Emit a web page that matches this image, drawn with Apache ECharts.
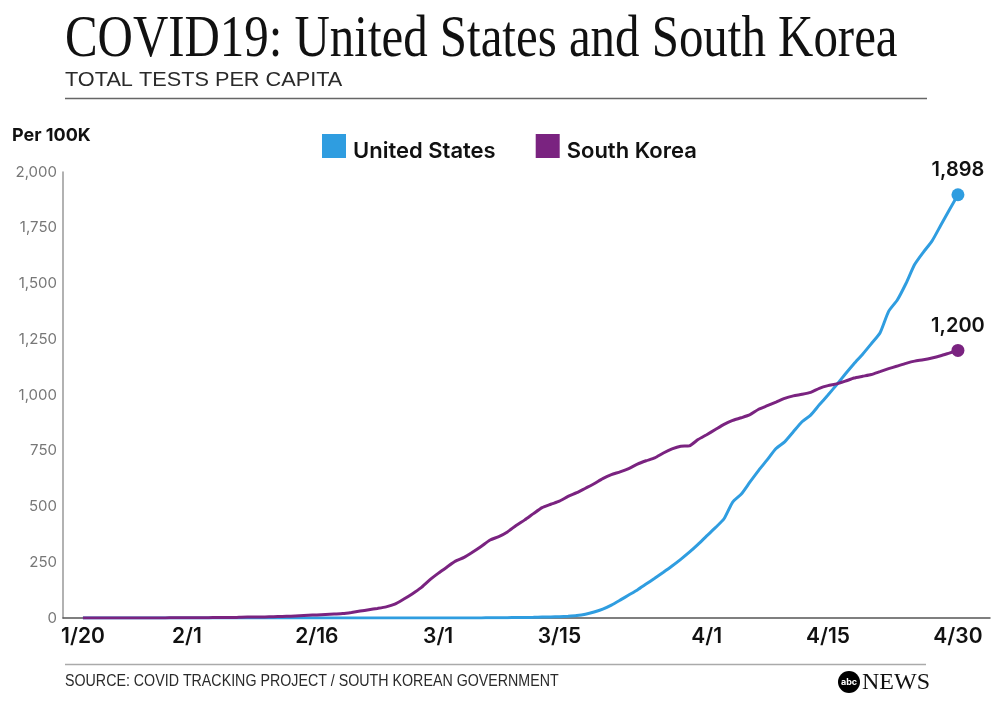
<!DOCTYPE html>
<html>
<head>
<meta charset="utf-8">
<script src="https://cdn.jsdelivr.net/npm/echarts@6/dist/echarts.min.js"></script>
<style>
html,body{margin:0;padding:0;background:#fff;}
#chart{width:992px;height:701px;}
</style>
</head>
<body>
<div id="chart"></div>
<script>
// Day index 0 = 1/20, 101 = 4/30
const tickDays = [0, 12, 27, 41, 55, 72, 86, 101];
const tickLabels = ['1/20', '2/1', '2/16', '3/1', '3/15', '4/1', '4/15', '4/30'];
const yTicks = [0, 250, 500, 750, 1000, 1250, 1500, 1750, 2000];

// Total tests per 100K, one value per day from 1/20 to 4/30
const unitedStates = [
  0,0,0,0,0,0,0,0,0,0, 0,0,0,0,0,0,0,0,0,0,
  0,0,0,0,0,0,0,0,0,0, 0,0,0,0,0,0,0,0,0,0,
  0,0,0,0,0,0.3,0.5,0.7,1,1.5, 2,2.5,3,4,5,6,8,11,17,27,
  40,58,80,103,126,152,178,205,233,263, 295,330,368,405,445,520,556,610,662,710,
  760,790,835,880,910,956,1000,1046,1094,1140, 1183,1230,1278,1375,1426,1500,1585,1640,1690,1760,
  1830,1898
];
const southKorea = [
  0,0,0,0,0,0,0,0,0,0, 1,1,1,1,1,2,2,2,3,4,
  4,5,6,7,8,10,12,14,16,18, 20,25,31,37,43,50,62,84,108,135,
  170,200,228,255,272,296,322,350,365,386, 415,440,468,495,510,524,545,562,582,602,
  625,643,655,670,690,705,718,740,758,770, 772,800,822,845,868,886,898,912,936,952,
  968,985,996,1003,1012,1030,1042,1050,1062,1076, 1084,1092,1105,1118,1130,1142,1152,1158,1166,1176,
  1188,1200
];
const seriesNames = ['United States', 'South Korea'];
const seriesColors = ['#2F9DE0', '#7A2380'];

const toPairs = arr => arr.map((v, i) => [i, v]);
const lastPair = arr => [[arr.length - 1, arr[arr.length - 1]]];
const fmt = v => v.toLocaleString('en-US');

const chart = echarts.init(document.getElementById('chart'), null, {renderer: 'canvas'});
const sans = 'Inter, "Liberation Sans", Arial, sans-serif';

function endLabel() {
  return {show: true, position: 'top', distance: 8, formatter: p => fmt(p.value[1]),
    fontSize: 20, fontWeight: 600, color: '#111', fontFamily: sans};
}

chart.setOption({
  animation: false,
  backgroundColor: '#fff',
  grid: {left: 63, right: 2, top: 172, bottom: 83, containLabel: false},
  legend: {
    data: seriesNames,
    left: 322, top: 134, padding: 0,
    icon: 'rect', itemWidth: 24, itemHeight: 24, itemGap: 40,
    formatter: name => '{t|' + name + '}',
    textStyle: {
      fontSize: 22, fontWeight: 600, color: '#111', fontFamily: sans,
      rich: {t: {fontSize: 22, fontWeight: 600, color: '#111', fontFamily: sans, padding: [10, 0, 0, 2]}}
    }
  },
  xAxis: {
    type: 'value', min: -2.3, max: 104.7,
    axisLine: {show: true, onZero: false, lineStyle: {color: '#555', width: 1.5}},
    axisTick: {show: false},
    splitLine: {show: false},
    axisLabel: {
      customValues: tickDays,
      formatter: v => tickLabels[tickDays.indexOf(v)] || '',
      fontSize: 21, fontWeight: 600, color: '#111', fontFamily: sans, margin: 8
    }
  },
  yAxis: {
    type: 'value', min: 0, max: 2000, interval: 250,
    axisLine: {show: true, onZero: false, lineStyle: {color: '#999', width: 1.5}},
    axisTick: {show: false},
    splitLine: {show: false},
    axisLabel: {
      formatter: v => fmt(v),
      fontSize: 15, color: '#777', fontFamily: sans, margin: 6
    }
  },
  series: [
    {
      name: seriesNames[0], type: 'line', data: toPairs(unitedStates),
      showSymbol: false, smooth: 0.2, color: seriesColors[0],
      lineStyle: {width: 3, color: seriesColors[0]}, z: 2
    },
    {
      name: seriesNames[1], type: 'line', data: toPairs(southKorea),
      showSymbol: false, smooth: 0.2, color: seriesColors[1],
      lineStyle: {width: 3, color: seriesColors[1]}, z: 3
    },
    {
      name: 'US end', type: 'scatter', data: lastPair(unitedStates),
      symbolSize: 13, itemStyle: {color: seriesColors[0], opacity: 1}, z: 5,
      label: endLabel()
    },
    {
      name: 'SK end', type: 'scatter', data: lastPair(southKorea),
      symbolSize: 13, itemStyle: {color: seriesColors[1], opacity: 1}, z: 5,
      label: endLabel()
    }
  ],
  graphic: [
    {type: 'text', left: 65, top: 10, scaleX: 0.815, originX: 0,
      style: {text: 'COVID19: United States and South Korea', fontSize: 60,
        fontFamily: '"Liberation Serif", "Times New Roman", serif', fill: '#111'}},
    {type: 'text', x: 65, y: 70, scaleX: 1.085,
      style: {text: 'TOTAL TESTS PER CAPITA', fontSize: 20,
        fontFamily: '"Liberation Sans", Arial, sans-serif', fill: '#2a2a2a'}},
    {type: 'line', shape: {x1: 65, y1: 98.5, x2: 927, y2: 98.5},
      style: {stroke: '#666', lineWidth: 1.5}},
    {type: 'text', left: 12, top: 127,
      style: {text: 'Per 100K', fontSize: 18, fontWeight: 700, fontFamily: sans, fill: '#111'}},
    {type: 'line', shape: {x1: 65, y1: 664.5, x2: 926, y2: 664.5},
      style: {stroke: '#aaa', lineWidth: 1.5}},
    {type: 'text', x: 65, y: 674, scaleX: 0.89,
      style: {text: 'SOURCE: COVID TRACKING PROJECT / SOUTH KOREAN GOVERNMENT', fontSize: 16,
        fontFamily: '"Liberation Sans", Arial, sans-serif', fill: '#2a2a2a'}},
    {type: 'circle', shape: {cx: 849, cy: 682, r: 11}, style: {fill: '#000'}},
    {type: 'text', x: 849, y: 682,
      style: {text: 'abc', fontSize: 9, fontWeight: 700, fontFamily: sans, fill: '#fff',
        align: 'center', verticalAlign: 'middle'}},
    {type: 'text', left: 862, top: 671,
      style: {text: 'NEWS', fontSize: 24,
        fontFamily: '"Liberation Serif", "Times New Roman", serif', fill: '#111'}}
  ]
});
</script>
</body>
</html>
